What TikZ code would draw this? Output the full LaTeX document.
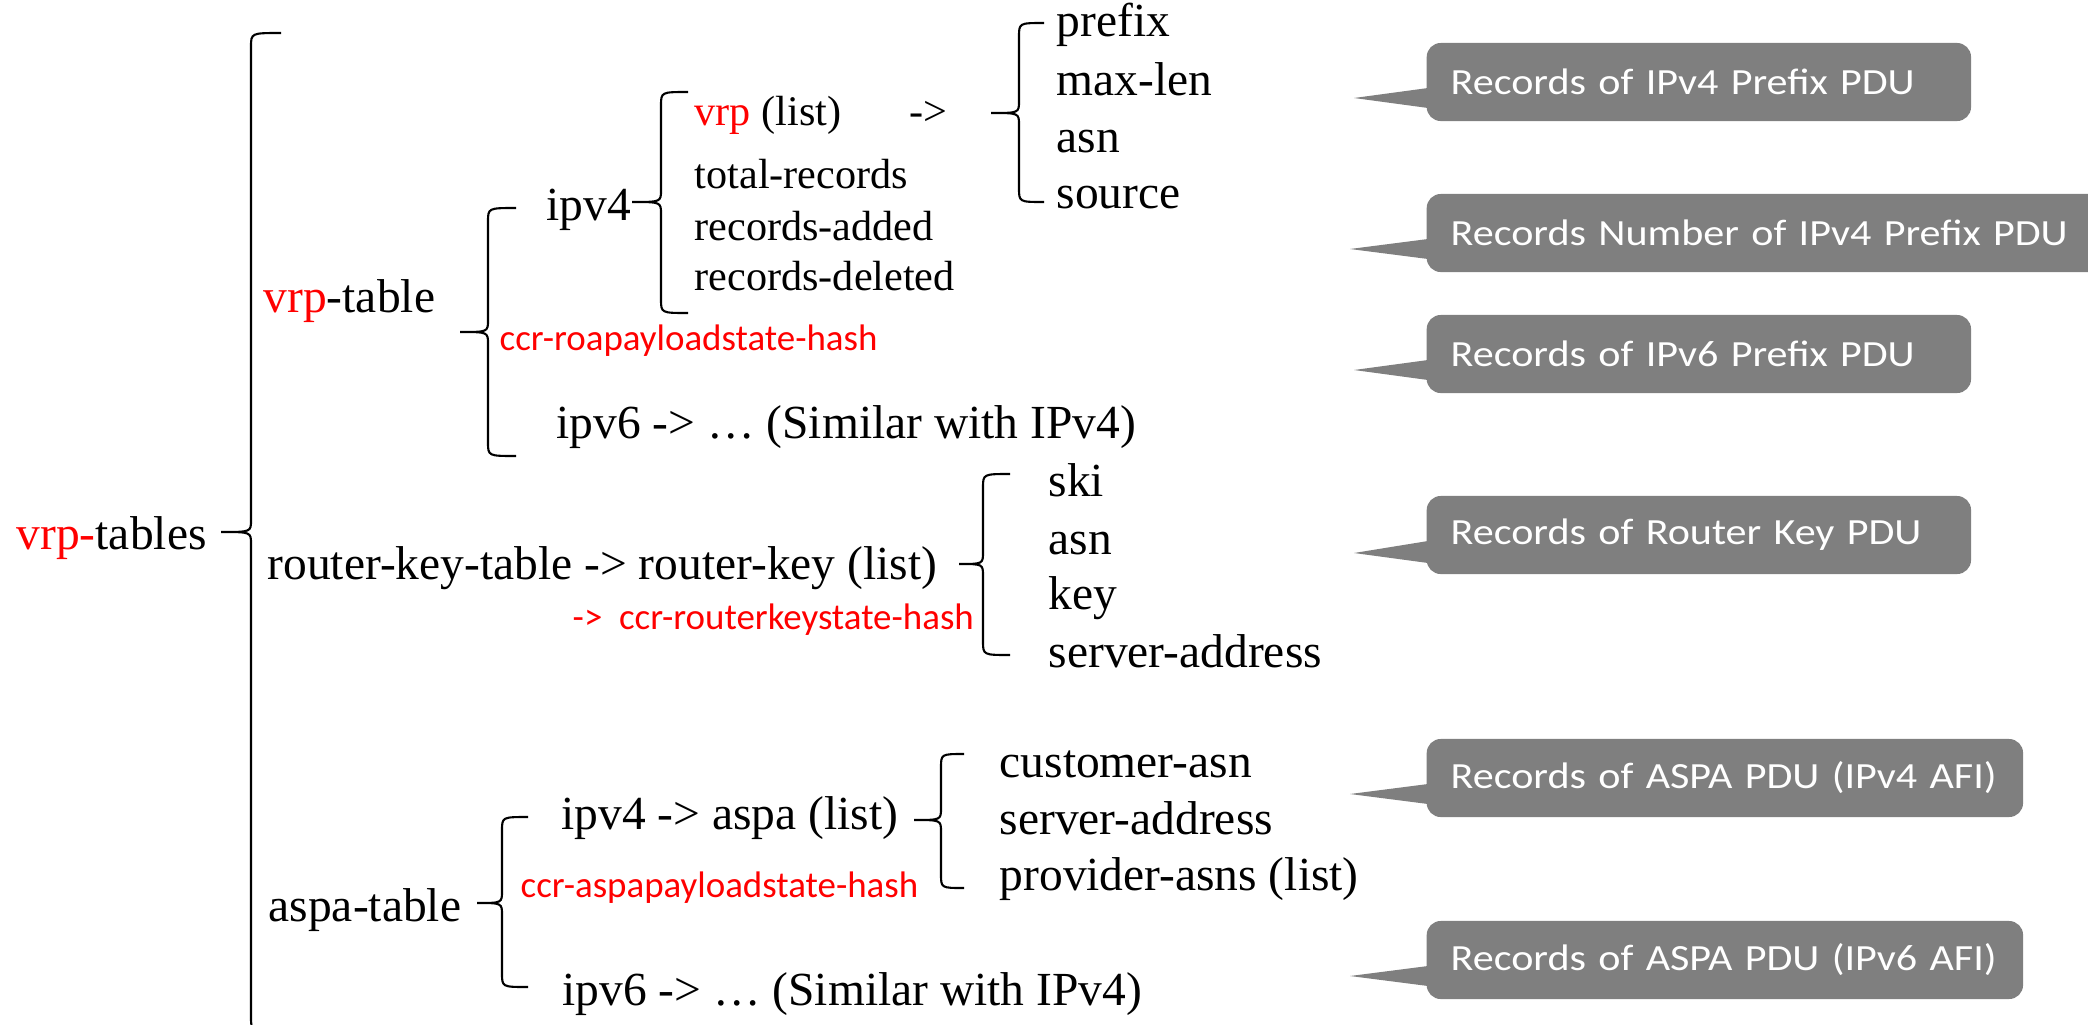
\documentclass[tikz,border=0pt]{standalone}
\usepackage{fontspec}
\setmainfont{Liberation Serif}
\newfontfamily\calfont{Carlito}
\newfontfamily\calwide{Carlito}[FakeStretch=1.14]
\definecolor{calgray}{RGB}{127,127,127}

% #1 line x, #2 top y, #3 cusp y, #4 bottom y, #5 cusp x, #6 hook x
\newcommand{\curlybrc}[6]{%
  \draw[myBrc] (#6,#2) .. controls (#1,#2) .. (#1,#2+14) -- (#1,#3-12)
    .. controls (#1,#3) .. (#5,#3) .. controls (#1,#3) .. (#1,#3+12)
    -- (#1,#4-14) .. controls (#1,#4) .. (#6,#4);}

\begin{document}
\begin{tikzpicture}[x=0.01cm, y=-0.01cm, inner sep=0pt]
    \useasboundingbox (0,0) rectangle (2088,1024);

    \tikzstyle{myTxt}=[anchor=base west, font=\fontsize{13.5}{16}\selectfont];
    \tikzstyle{mySub}=[anchor=base west, font=\fontsize{12}{14}\selectfont];
    \tikzstyle{myHash}=[anchor=base west, text=red, font=\calfont\fontsize{10.5}{12}\selectfont];
    \tikzstyle{myBrc}=[line width=0.6pt];
    \tikzstyle{myNote}=[anchor=west, fill=calgray, rounded corners=0.14cm, text=white,
        font=\calwide\fontsize{10.5}{12}\selectfont, inner xsep=0.24cm, minimum height=0.78cm, align=left];
    \tikzstyle{myTip}=[fill=calgray];

    % tree
    \node[myTxt] (tables) at (16,549) {\textcolor{red}{vrp-}tables};
    \curlybrc{251}{33}{532}{1031}{221}{281}

    \node[myTxt] (vrptab) at (263,312) {\textcolor{red}{vrp}-table};
    \curlybrc{488}{208}{332}{456}{460}{516}
    \node[myTxt] (v4) at (546,220) {ipv4};
    \curlybrc{661}{92}{202}{313}{632}{688}
    \node[mySub] (vrplist) at (694,125) {\textcolor{red}{vrp} (list)};
    \node[mySub] (to) at (909,125) {->};
    \node[mySub] (total) at (694,188) {total-records};
    \node[mySub] (added) at (694,240) {records-added};
    \node[mySub] (deleted) at (694,290) {records-deleted};
    \curlybrc{1019}{23}{113}{202}{991}{1044}
    \node[myTxt] (prefix) at (1056,37) {prefix};
    \node[myTxt] (maxlen) at (1056,95) {max-len};
    \node[myTxt] (asn) at (1056,152) {asn};
    \node[myTxt] (source) at (1056,208) {source};
    \node[myHash] (roahash) at (499,350) {ccr-roapayloadstate-hash};
    \node[myTxt] (v6) at (556,438) {ipv6 -> … (Similar with IPv4)};

    \node[myTxt] (rktab) at (267,579) {router-key-table -> router-key (list)};
    \node[myHash] (rkhash) at (572,629) {->~~ccr-routerkeystate-hash};
    \curlybrc{983}{474}{564}{655}{959}{1010}
    \node[myTxt] (ski) at (1048,496) {ski};
    \node[myTxt] (rkasn) at (1048,554) {asn};
    \node[myTxt] (key) at (1048,609) {key};
    \node[myTxt] (rkaddr) at (1048,667) {server-address};

    \node[myTxt] (aspatab) at (268,921) {aspa-table};
    \curlybrc{502}{817}{903}{987}{477}{528}
    \node[myTxt] (aspav4) at (561,829) {ipv4 -> aspa (list)};
    \curlybrc{941}{754}{820}{888}{914}{964}
    \node[myTxt] (cust) at (999,777) {customer-asn};
    \node[myTxt] (aspaaddr) at (999,834) {server-address};
    \node[myTxt] (prov) at (999,890) {provider-asns (list)};
    \node[myHash] (aspahash) at (520,897) {ccr-aspapayloadstate-hash};
    \node[myTxt] (aspav6) at (562,1005) {ipv6 -> … (Similar with IPv4)};

    % notes
    \node[myNote, text width=4.96cm] (n1) at (1426,82) {Records of IPv4 Prefix PDU};
    \node[myNote, text width=6.4cm] (n2) at (1426,233) {Records Number of IPv4 Prefix PDU};
    \node[myNote, text width=4.96cm] (n3) at (1426,354) {Records of IPv6 Prefix PDU};
    \node[myNote, text width=4.96cm] (n4) at (1426,535) {Records of Router Key PDU};
    \node[myNote, text width=5.48cm] (n5) at (1426,778) {Records of ASPA PDU (IPv4 AFI)};
    \node[myNote, text width=5.48cm] (n6) at (1426,960) {Records of ASPA PDU (IPv6 AFI)};
    \fill[myTip] ([shift={(2,6)}]n1.west) -- ([shift={(-72,16)}]n1.west) -- ([shift={(2,26)}]n1.west) -- cycle;
    \fill[myTip] ([shift={(2,6)}]n2.west) -- ([shift={(-76,16)}]n2.west) -- ([shift={(2,26)}]n2.west) -- cycle;
    \fill[myTip] ([shift={(2,6)}]n3.west) -- ([shift={(-72,16)}]n3.west) -- ([shift={(2,26)}]n3.west) -- cycle;
    \fill[myTip] ([shift={(2,6)}]n4.west) -- ([shift={(-72,18)}]n4.west) -- ([shift={(2,28)}]n4.west) -- cycle;
    \fill[myTip] ([shift={(2,6)}]n5.west) -- ([shift={(-76,16)}]n5.west) -- ([shift={(2,26)}]n5.west) -- cycle;
    \fill[myTip] ([shift={(2,6)}]n6.west) -- ([shift={(-76,16)}]n6.west) -- ([shift={(2,26)}]n6.west) -- cycle;
\end{tikzpicture}
\end{document}
